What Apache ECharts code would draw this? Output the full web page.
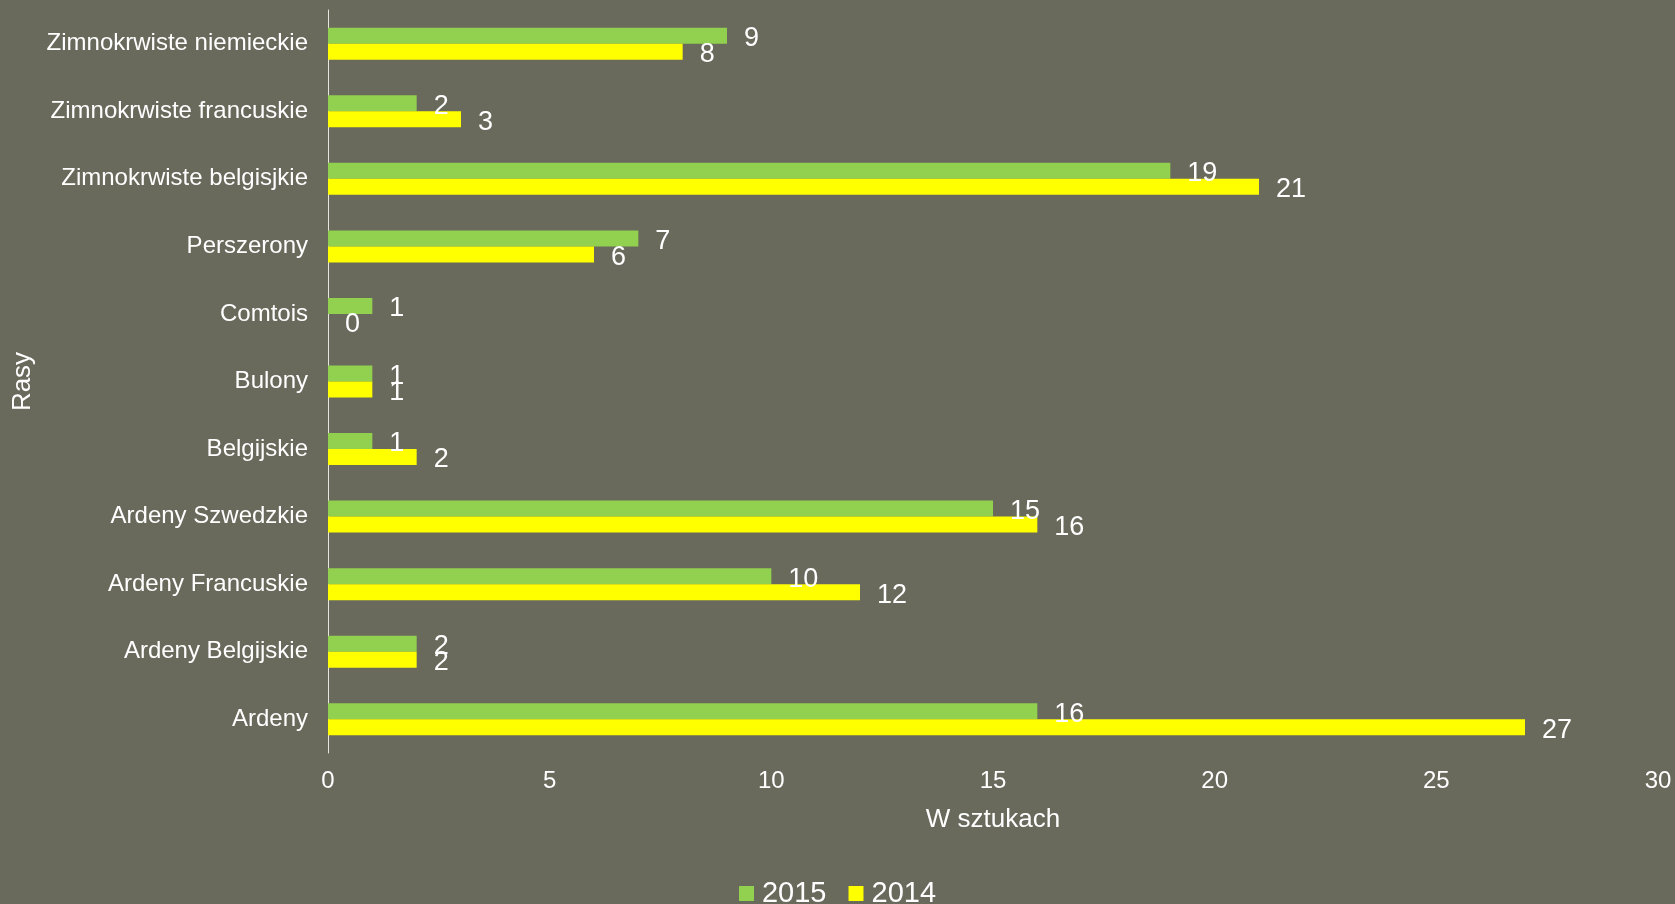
<!DOCTYPE html>
<html>
<head>
<meta charset="utf-8">
<script src="https://cdn.jsdelivr.net/npm/echarts@6/dist/echarts.min.js"></script>
<style>
  html, body { margin: 0; padding: 0; background: #696a5c; }
  #chart { width: 1675px; height: 904px; }
</style>
</head>
<body>
<div id="chart"></div>
<script>
// rasy koni, od góry do dołu
var rasy = [
  'Zimnokrwiste niemieckie',
  'Zimnokrwiste francuskie',
  'Zimnokrwiste belgisjkie',
  'Perszerony',
  'Comtois',
  'Bulony',
  'Belgijskie',
  'Ardeny Szwedzkie',
  'Ardeny Francuskie',
  'Ardeny Belgijskie',
  'Ardeny'
];
var dane2015 = [9, 2, 19, 7, 1, 1, 1, 15, 10, 2, 16];
var dane2014 = [8, 3, 21, 6, 0, 1, 2, 16, 12, 2, 27];
var xTicks = [0, 5, 10, 15, 20, 25, 30];

var font = 'Liberation Sans, Arial, sans-serif';

var myChart = echarts.init(document.getElementById('chart'));

var etykieta = {
  show: true,
  position: 'right',
  distance: 17,
  offset: [0, 3],
  color: '#ffffff',
  fontFamily: font,
  fontSize: 27
};

myChart.setOption({
  backgroundColor: '#696a5c',
  animation: false,
  grid: { left: 328, right: 17, top: 10, bottom: 151 },
  legend: {
    data: ['2015', '2014'],
    left: 'center',
    top: 874,
    icon: 'rect',
    itemWidth: 15,
    itemHeight: 15,
    itemGap: 22,
    textStyle: { color: '#ffffff', fontFamily: font, fontSize: 29, padding: [0, 0, 0, 3] }
  },
  xAxis: {
    type: 'value',
    min: 0,
    max: 30,
    interval: 5,
    name: 'W sztukach',
    nameLocation: 'middle',
    nameGap: 54,
    nameTextStyle: { color: '#ffffff', fontFamily: font, fontSize: 26 },
    axisLine: { show: false },
    axisTick: { show: false },
    splitLine: { show: false },
    axisLabel: {
      color: '#ffffff',
      fontFamily: font,
      fontSize: 24,
      margin: 16,
      formatter: function (v) { return xTicks.indexOf(v) >= 0 ? String(v) : ''; }
    }
  },
  yAxis: {
    type: 'category',
    data: rasy,
    inverse: true,
    name: 'Rasy',
    nameLocation: 'middle',
    nameGap: 289,
    nameRotate: 90,
    nameTextStyle: { color: '#ffffff', fontFamily: font, fontSize: 26 },
    axisLine: { show: true, lineStyle: { color: '#e6e6e0', width: 1 } },
    axisTick: { show: false },
    axisLabel: { color: '#ffffff', fontFamily: font, fontSize: 24, margin: 20 }
  },
  series: [
    {
      name: '2015',
      type: 'bar',
      data: dane2015,
      barWidth: 16,
      barGap: '0%',
      itemStyle: { color: '#92d050' },
      label: etykieta
    },
    {
      name: '2014',
      type: 'bar',
      data: dane2014,
      barWidth: 16,
      barGap: '0%',
      itemStyle: { color: '#ffff00' },
      label: etykieta
    }
  ]
});
</script>
</body>
</html>
